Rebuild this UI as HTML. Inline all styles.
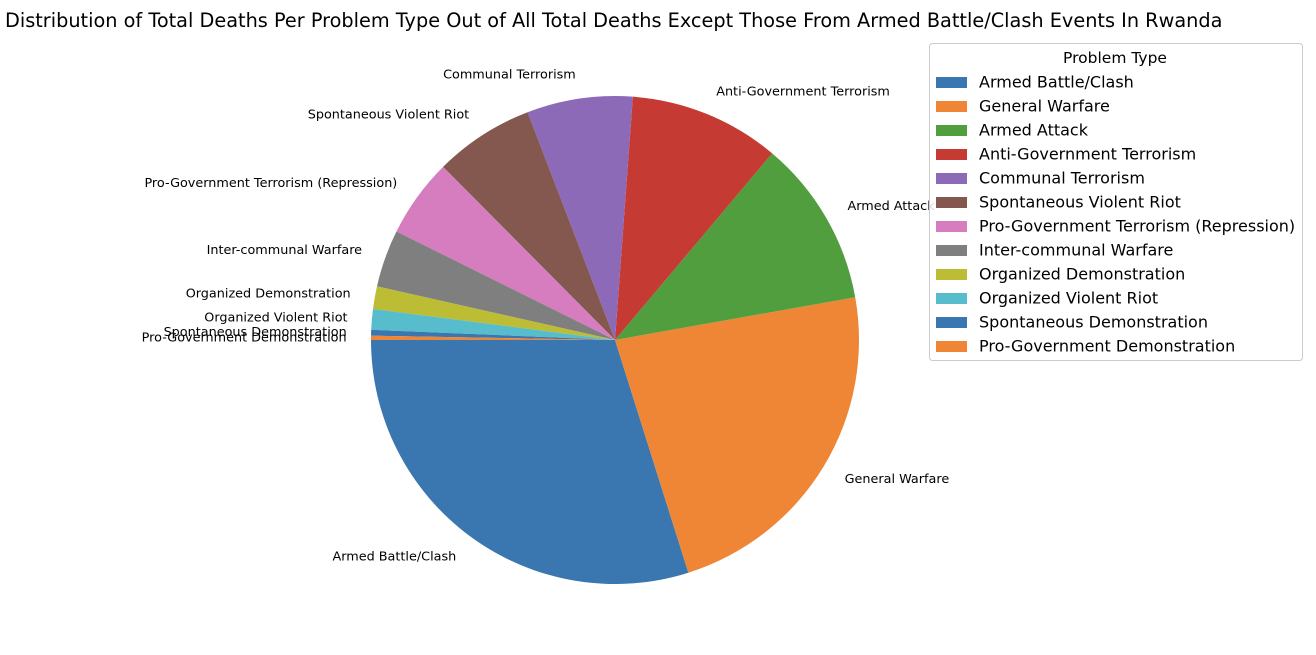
<!DOCTYPE html>
<html><head><meta charset="utf-8"><style>
body{margin:0;background:#fff;width:1316px;height:650px;overflow:hidden;font-family:"Liberation Sans","DejaVu Sans",sans-serif}
</style></head><body>
<svg id="chart" width="1316" height="650">
<text x="5" y="27" font-size="19.3" fill="#000" font-family="DejaVu Sans, sans-serif">Distribution of Total Deaths Per Problem Type Out of All Total Deaths Except Those From Armed Battle/Clash Events In Rwanda</text>
<g id="slices"></g><g id="labels"></g>
<g id="legend"></g>
</svg>
<script>
const categories=["Armed Battle/Clash","General Warfare","Armed Attack","Anti-Government Terrorism","Communal Terrorism","Spontaneous Violent Riot","Pro-Government Terrorism (Repression)","Inter-communal Warfare","Organized Demonstration","Organized Violent Riot","Spontaneous Demonstration","Pro-Government Demonstration"];
const values=[107.5,82.6,39.8,35.9,25.2,23.8,18.8,13.7,5.4,4.9,1.4,1.0];
const colors=["#3a76af","#ef8636","#519e3e","#c53a32","#8d6ab8","#84584e","#d57dbe","#7f7f7f","#bcbc35","#57bccc","#3a76af","#ef8636"];
const NS="http://www.w3.org/2000/svg";
const cx=615,cy=340,r=244,start=180;
const total=values.reduce((a,b)=>a+b,0);
const sg=document.getElementById('slices'),lg=document.getElementById('labels'),leg=document.getElementById('legend');
let a=start;
values.forEach((v,i)=>{
  const sweep=v/total*360,a2=a+sweep;
  const rad=d=>d*Math.PI/180;
  const x1=cx+r*Math.cos(rad(a)),y1=cy-r*Math.sin(rad(a));
  const x2=cx+r*Math.cos(rad(a2)),y2=cy-r*Math.sin(rad(a2));
  const p=document.createElementNS(NS,'path');
  p.setAttribute('d',`M${cx},${cy}L${x1},${y1}A${r},${r} 0 ${sweep>180?1:0} 0 ${x2},${y2}Z`);
  p.setAttribute('fill',colors[i]);
  
  
  sg.appendChild(p);
  const m=rad((a+a2)/2),lx=cx+1.1*r*Math.cos(m),ly=cy-1.1*r*Math.sin(m);
  const t=document.createElementNS(NS,'text');
  t.setAttribute('x',lx);t.setAttribute('y',ly+4);
  t.setAttribute('font-size','12.8');
  t.setAttribute('font-family','DejaVu Sans, sans-serif');
  t.setAttribute('text-anchor',Math.cos(m)>=0?'start':'end');
  t.textContent=categories[i];
  
  
  lg.appendChild(t);
  a=a2;
});
leg.innerHTML=`<rect x="929.5" y="43.5" width="373" height="317" rx="3" fill="#fff" fill-opacity="0.85" stroke="#ccc"/><text x="1115" y="63" font-size="15.5" text-anchor="middle" font-family="DejaVu Sans, sans-serif">Problem Type</text>`;
categories.forEach((c,i)=>{
  const y=82+i*24;
  const g=document.createElementNS(NS,'g');
  
  
  g.innerHTML=`<rect x="936" y="${y-5}" width="31" height="11" fill="${colors[i]}"/><text x="979" y="${y+5.5}" font-size="16" font-family="DejaVu Sans, sans-serif">${c}</text>`;
  leg.appendChild(g);
});
</script>
</body></html>
